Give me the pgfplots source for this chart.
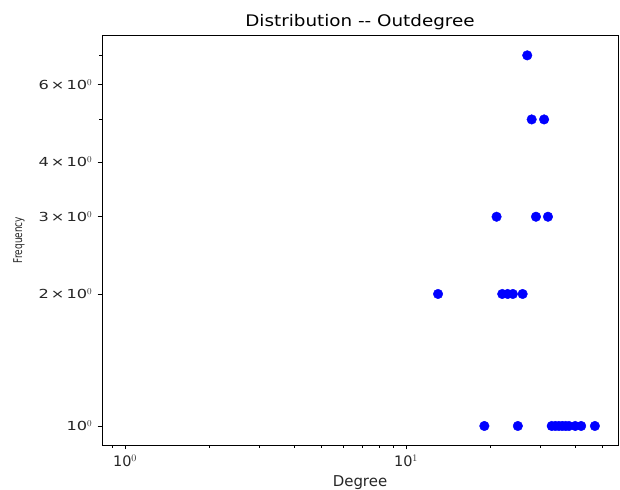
\documentclass[border=0pt]{standalone}
\usepackage{fontspec}
\setmainfont{DejaVu Sans}
\newfontfamily\wide{DejaVu Sans}[FakeStretch=1.15]
\newfontfamily\wider{DejaVu Sans}[FakeStretch=1.3]
\usepackage{pgfplots}
\pgfplotsset{compat=1.18}
\begin{document}
\begin{tikzpicture}[x=1bp,y=1bp]
\begin{loglogaxis}[
  name=ax,
  scale only axis,
  width=516bp, height=410bp,
  xmin=0.828, xmax=56.8,
  ymin=0.905, ymax=7.79,
  xtick={1,10},
  xticklabels={10$^{0}$,10$^{1}$},
  minor xtick={0.9,2,3,4,5,6,7,8,9,20,30,40,50},
  ytick={1,2,3,4,6},
  yticklabels={10$^{0}$,2\,×\,10$^{0}$,3\,×\,10$^{0}$,4\,×\,10$^{0}$,6\,×\,10$^{0}$},
  minor ytick={5,7},
  tick align=outside,
  major tick length=4.5bp,
  minor tick length=2.7bp,
  xtick pos=bottom, ytick pos=left,
  tick style={black, line width=0.6bp},
  axis line style={black, line width=0.8bp},
  xticklabel style={font=\fontsize{14.5}{16}\selectfont, text=black!85, anchor=north, inner sep=0pt, yshift=-5bp},
  yticklabel style={font=\wider\fontsize{12.5}{14}\selectfont, text=black!85, anchor=east, inner sep=0pt, xshift=-5bp},
  title={Distribution -{}- Outdegree},
  title style={font=\wide\fontsize{16}{18}\selectfont, at={(axis description cs:0.5,1.0066)}, anchor=base, inner sep=0pt},
  xlabel={Degree},
  xlabel style={font=\fontsize{15}{17}\selectfont, text=black!85, at={(axis description cs:0.5,-0.1012)}, anchor=base, inner sep=0pt},
  ylabel={\scalebox{1}[1.35]{Frequency}},
  ylabel style={font=\fontsize{9}{11}\selectfont, text=black!85, at={(axis description cs:-0.155,0.5)}, anchor=base, inner sep=0pt},
]
\addplot[only marks, mark=*, mark size=4.8bp, color=blue, fill=blue] coordinates {
 (19,1) (25,1) (33,1) (34,1) (35,1) (36,1) (37,1) (38,1) (40,1) (42,1) (47,1)
 (13,2) (22,2) (23,2) (24,2) (26,2)
 (21,3) (29,3) (32,3)
 (28,5) (31,5)
 (27,7)
};
\end{loglogaxis}
\path[use as bounding box] ([xshift=-102bp,yshift=-44bp]ax.south west) rectangle ([xshift=2bp,yshift=35bp]ax.north east);
\end{tikzpicture}
\end{document}
